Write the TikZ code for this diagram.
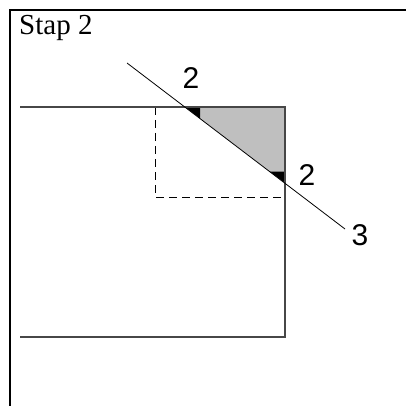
\documentclass[tikz,border=0pt]{standalone}
\usepackage{fontspec}
\setmainfont{Liberation Serif}
\newfontfamily\digitfont{Liberation Sans}
\begin{document}
\begin{tikzpicture}[x=1pt,y=-1pt,
  frame/.style={line width=2.2pt,black},
  shapeline/.style={line width=1.6pt,black!72},
  dashline/.style={line width=0.9pt,black,dash pattern=on 8pt off 5pt},
  foldline/.style={line width=0.8pt,black},
  lbl/.style={font=\digitfont\fontsize{30}{30}\selectfont,inner sep=0pt},
  marker/.style={fill=black}]
\useasboundingbox (0,0) rectangle (406,406);
% outer frame
\coordinate (fTL) at (10,10);
\coordinate (fTR) at (406,10);
\coordinate (fBL) at (10,406);
\draw[frame] (fBL) -- (fTL) -- (fTR);
\node[anchor=base west,inner sep=0pt,font=\fontsize{29}{29}\selectfont] (title) at (19,35) {Stap 2};
% corner points
\coordinate (A) at (20,107);
\coordinate (B) at (285,107);
\coordinate (C) at (285,337);
\coordinate (D) at (20,337);
\coordinate (P) at (185,107);
\coordinate (Q) at (285,183);
\coordinate (L1) at (127,63);
\coordinate (L2) at (345,229);
\coordinate (E) at (155,107);
\coordinate (F) at (155,197);
\coordinate (G) at (285,197);
% grey triangle
\fill[black!25] (P) -- (B) -- (Q) -- cycle;
% markers
\fill[marker] (P) -- (200,107) -- (200,118.4) -- cycle;
\fill[marker] (Q) -- (285,171.6) -- (269.8,171.6) -- cycle;
% dashed square
\draw[dashline] (E) -- (F) -- (G);
% shape
\draw[shapeline] (A) -- (B) -- (C) -- (D);
% fold line
\draw[foldline] (L1) -- (L2);
% labels
\node[lbl] (n1) at (191,78) {2};
\node[lbl] (n2) at (307,175) {2};
\node[lbl] (n3) at (360,235) {3};
\end{tikzpicture}
\end{document}
